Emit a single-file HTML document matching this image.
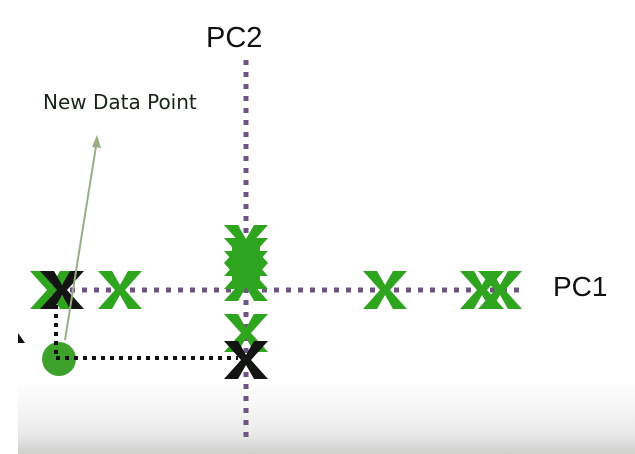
<!DOCTYPE html>
<html><head><style>
html,body{margin:0;padding:0;background:#fff;}
svg{display:block;}
</style></head><body>
<svg width="635" height="454" viewBox="0 0 635 454" xmlns="http://www.w3.org/2000/svg">
<defs>
<linearGradient id="bg" x1="0" y1="0" x2="0" y2="1">
<stop offset="0" stop-color="#ffffff"/>
<stop offset="0.45" stop-color="#f4f4f4"/>
<stop offset="0.75" stop-color="#e8e8e8"/>
<stop offset="1" stop-color="#cdcecc"/>
</linearGradient>
<polygon id="x" points="-22,-19 -8,-19 0,-5 8,-19 22,-19 5,0 22,19 8,19 0,5 -8,19 -22,19 -5,0"/>
</defs>
<rect x="18" y="380" width="617" height="74" fill="url(#bg)"/>
<line x1="70" y1="290" x2="522" y2="290" stroke="#6e5480" stroke-width="5" stroke-dasharray="5 7"/>
<line x1="246" y1="60" x2="246" y2="442" stroke="#6e5480" stroke-width="5" stroke-dasharray="5 7"/>
<g fill="#2fa41f">
<use href="#x" x="52" y="290"/>
<use href="#x" x="120" y="290"/>
<use href="#x" x="246" y="244"/>
<use href="#x" x="246" y="257"/>
<use href="#x" x="246" y="270"/>
<use href="#x" x="246" y="282"/>
<rect x="232" y="240" width="28" height="48"/>
<use href="#x" x="246" y="333"/>
<use href="#x" x="385" y="290"/>
<use href="#x" x="482" y="290"/>
<use href="#x" x="500" y="290"/>
</g>
<use href="#x" x="62" y="290" fill="#121511"/>
<circle cx="59" cy="359" r="17" fill="#3da12b"/>
<line x1="56" y1="305" x2="56" y2="358" stroke="#111" stroke-width="4" stroke-dasharray="4 5"/>
<line x1="56" y1="358" x2="238" y2="358" stroke="#111" stroke-width="4" stroke-dasharray="4 5"/>
<use href="#x" x="246" y="360" fill="#121511"/>
<polygon points="18,333 25,343 18,343" fill="#111"/>
<line x1="65" y1="340" x2="97" y2="140" stroke="#9aae86" stroke-width="2"/>
<polygon points="97,135 92,147 101,148" fill="#9aae86"/>
<text x="43" y="109" font-family="DejaVu Sans, sans-serif" font-size="20" fill="#182418">New Data Point</text>
<text x="206" y="47" font-family="Liberation Sans, sans-serif" font-size="29" fill="#111">PC2</text>
<text x="553" y="296" font-family="Liberation Sans, sans-serif" font-size="28" fill="#111">PC1</text>
</svg>
</body></html>
